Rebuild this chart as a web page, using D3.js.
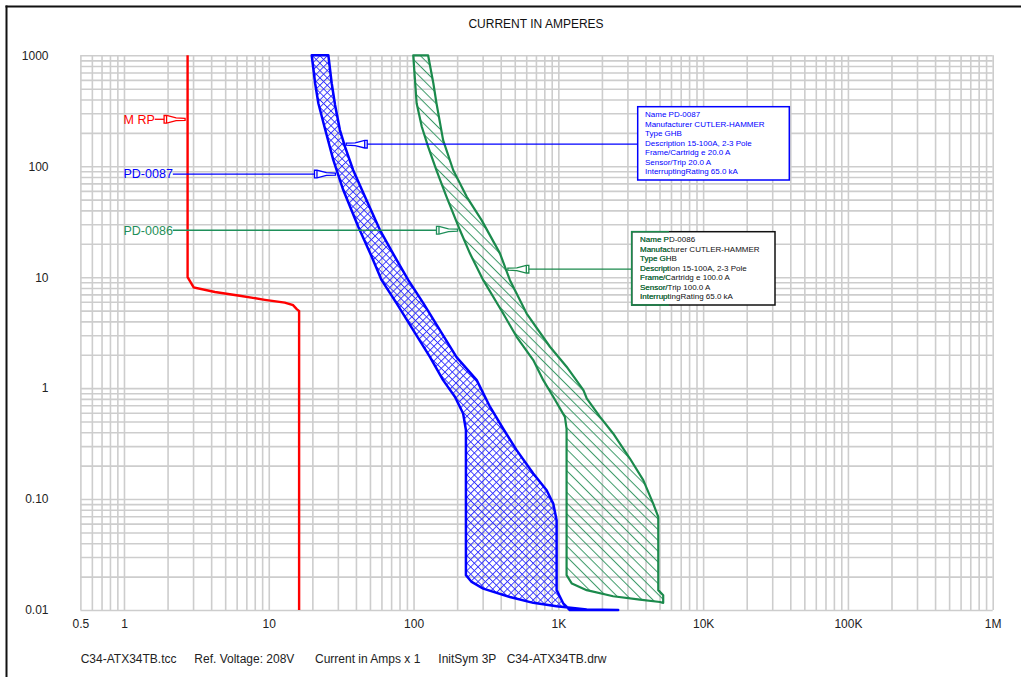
<!DOCTYPE html>
<html>
<head>
<meta charset="utf-8">
<script src="https://cdn.jsdelivr.net/npm/d3@7"></script>
<style>
  body { margin: 0; background: #fff; }
  svg text { font-family: Arial, "Liberation Sans", sans-serif; }
</style>
</head>
<body>
<svg id="chart" width="1021" height="677"></svg>
<script>
// ---- Axis ticks ----
const xTickValues = [0.5, 1, 10, 100, 1000, 10000, 100000, 1000000];
const xTickLabels = ["0.5", "1", "10", "100", "1K", "10K", "100K", "1M"];
const yTickValues = [1000, 100, 10, 1, 0.1, 0.01];
const yTickLabels = ["1000", "100", "10", "1", "0.10", "0.01"];

// ---- Time-current curves: [current (A), time (s)] ----
const mrpCurve = [[2.75, 1000], [2.75, 10], [3.03, 8.1], [4.25, 7.35], [6.3, 6.8], [9.4, 6.25],
  [12.9, 5.9], [14.7, 5.6], [15.6, 5.15], [16.2, 4.95], [16.2, 0.01]];

const pd0087Min = [[19.8, 1000], [20.9, 560], [22, 370], [24.4, 220], [27.9, 114], [32.7, 61],
  [41.5, 28.5], [51.4, 15.3], [60.2, 9.4], [76.4, 5.8], [99.5, 3.33], [130, 1.9], [160, 1.18],
  [193, 0.835], [220, 0.59], [230, 0.42], [230, 0.098], [230, 0.0206], [252, 0.0179],
  [303, 0.0156], [463, 0.0131], [671, 0.0116], [973, 0.0108], [1570, 0.0101], [2590, 0.01]];
const pd0087Max = [[25.8, 1000], [27.2, 560], [28.7, 356], [31, 212], [33.6, 150], [38.3, 92],
  [46.2, 53], [58.6, 26.6], [76.4, 14.3], [92, 9.4], [117, 5.8], [152, 3.33], [198, 1.9],
  [273, 1.18], [337, 0.68], [416, 0.43], [515, 0.276], [671, 0.17], [830, 0.12], [922, 0.091],
  [973, 0.0645], [973, 0.0151], [1080, 0.0115], [1200, 0.01]];

const pd0086Min = [[99.5, 1000], [105, 370], [114, 227], [126, 150], [144, 92], [169, 53],
  [209, 26.6], [245, 16.4], [303, 9.4], [416, 4.7], [515, 2.9], [671, 1.79], [787, 1.18],
  [922, 0.835], [1110, 0.55], [1140, 0.43], [1140, 0.0206], [1240, 0.0173], [1570, 0.0151],
  [2390, 0.0133], [3660, 0.0124], [5030, 0.0118], [5300, 0.0116]];
const pd0086Max = [[126, 1000], [137, 560], [144, 370], [160, 172], [188, 92], [233, 53],
  [295, 32.7], [395, 16.4], [463, 9.4], [604, 4.7], [875, 2.36], [1140, 1.56], [1490, 0.96],
  [1570, 0.81], [1940, 0.55], [2390, 0.39], [3120, 0.232], [3860, 0.148], [4520, 0.091],
  [4900, 0.069], [4900, 0.0151], [5300, 0.0136], [5300, 0.0116]];

// ---- Device labels: time (s) at which each leader meets its curve ----
const mrpLabelTime = 265;
const pd0087LabelTime = 85;
const pd0086LabelTime = 26.5;
const pd0087InfoTime = 158;
const pd0086InfoTime = 11.8;

const pd0087Info = ["Name  PD-0087", "Manufacturer CUTLER-HAMMER", "Type GHB",
  "Description 15-100A, 2-3 Pole", "Frame/Cartridg e 20.0 A", "Sensor/Trip 20.0 A",
  "InterruptingRating 65.0 kA"];
const pd0086Info = ["Name  PD-0086", "Manufacturer CUTLER-HAMMER", "Type GHB",
  "Description 15-100A, 2-3 Pole", "Frame/Cartridg e 100.0 A", "Sensor/Trip 100.0  A",
  "InterruptingRating 65.0 kA"];

const titleText = "CURRENT IN AMPERES";
const footerItems = ["C34-ATX34TB.tcc", "Ref. Voltage: 208V", "Current in Amps x 1",
  "InitSym 3P", "C34-ATX34TB.drw"];

// ---- Layout ----
const plot = { left: 80.4, right: 992.7, top: 55.3, bottom: 610 };
const footerX = [80.7, 194.3, 315, 438.3, 506.7];
const RED = "#ff0000", BLUE = "#0000ff", GREEN = "#1b8a4c", GREEN_TXT = "#1f8f5a", GRID = "#cdcdcd";

const svg = d3.select("#chart");

const x = d3.scaleLog().domain([0.5, 1e6]).range([plot.left, plot.right]);
const y = d3.scaleLog().domain([0.01, 1000]).range([plot.bottom, plot.top]);

// Outer frame (left and top edges)
svg.append("line").attr("x1", 6.5).attr("x2", 6.5).attr("y1", 5.5).attr("y2", 677)
  .attr("stroke", "#111").attr("stroke-width", 2);
svg.append("line").attr("x1", 5.5).attr("x2", 1021).attr("y1", 6.5).attr("y2", 6.5)
  .attr("stroke", "#111").attr("stroke-width", 2);

// Log grid: 1..9 per decade
function logGrid(lo, hi) {
  const out = [];
  for (let e = Math.floor(Math.log10(lo)) - 1; e <= Math.ceil(Math.log10(hi)); e++) {
    for (let k = 1; k <= 9; k++) {
      const v = k * Math.pow(10, e);
      if (v >= lo * 0.999 && v <= hi * 1.001) out.push(v);
    }
  }
  return out;
}
const gx = svg.append("g").attr("transform", `translate(0,${plot.bottom})`)
  .call(d3.axisBottom(x).tickValues(logGrid(0.5, 1e6)).tickSize(-(plot.bottom - plot.top)).tickFormat(""));
const gy = svg.append("g").attr("transform", `translate(${plot.left},0)`)
  .call(d3.axisLeft(y).tickValues(logGrid(0.01, 1000)).tickSize(-(plot.right - plot.left)).tickFormat(""));
[gx, gy].forEach(g => {
  g.select(".domain").remove();
  g.selectAll(".tick line").attr("stroke", GRID).attr("stroke-width", 1.6);
});

// Tick labels
const ax = svg.append("g").attr("transform", "translate(0,619)")
  .call(d3.axisBottom(x).tickValues(xTickValues).tickSize(0).tickPadding(0)
    .tickFormat((d, i) => xTickLabels[i]));
const ay = svg.append("g").attr("transform", "translate(48.5,0)")
  .call(d3.axisLeft(y).tickValues(yTickValues).tickSize(0).tickPadding(0)
    .tickFormat((d, i) => yTickLabels[i]));
[ax, ay].forEach(g => {
  g.select(".domain").remove();
  g.selectAll("text").attr("font-size", 12).attr("fill", "#222")
    .style("font-family", "Arial, 'Liberation Sans', sans-serif");
});

// Title and footer
svg.append("text").attr("x", 536).attr("y", 28).attr("text-anchor", "middle")
  .attr("font-size", 12).attr("fill", "#111").text(titleText);
svg.append("g").selectAll("text").data(footerItems).join("text")
  .attr("x", (d, i) => footerX[i]).attr("y", 662.5)
  .attr("font-size", 12).attr("fill", "#222").text(d => d);

// Hatch patterns
const defs = svg.append("defs");
const cross = defs.append("pattern").attr("id", "crossBlue").attr("patternUnits", "userSpaceOnUse")
  .attr("width", 5.2).attr("height", 5.2).attr("patternTransform", "rotate(45)");
cross.append("path").attr("d", "M0,0.5H5.2M0.5,0V5.2").attr("stroke", "#3030ff").attr("stroke-width", 0.9);
const diag = defs.append("pattern").attr("id", "diagGreen").attr("patternUnits", "userSpaceOnUse")
  .attr("width", 8).attr("height", 7.6).attr("patternTransform", "rotate(45)");
diag.append("path").attr("d", "M-1,0.5H9").attr("stroke", "#3c9a68").attr("stroke-width", 1);

const line = d3.line().x(d => x(d[0])).y(d => y(d[1]));
const band = (lo, hi) => line(lo.concat(hi.slice().reverse())) + "Z";

svg.append("path").attr("d", band(pd0086Min, pd0086Max))
  .attr("fill", "url(#diagGreen)").attr("stroke", GREEN).attr("stroke-width", 2.2)
  .attr("stroke-linejoin", "round");
svg.append("path").attr("d", band(pd0087Min, pd0087Max))
  .attr("fill", "url(#crossBlue)").attr("stroke", BLUE).attr("stroke-width", 2.5)
  .attr("stroke-linejoin", "round");
svg.append("path").attr("d", line(mrpCurve)).attr("fill", "none")
  .attr("stroke", RED).attr("stroke-width", 2.4);

// Current on a curve at a given time (log-log interpolation)
function currentAt(curve, t) {
  for (let i = 0; i < curve.length - 1; i++) {
    const a = curve[i], b = curve[i + 1];
    if ((t <= a[1] && t >= b[1]) && a[1] !== b[1]) {
      const f = (Math.log(t) - Math.log(a[1])) / (Math.log(b[1]) - Math.log(a[1]));
      return Math.exp(Math.log(a[0]) + f * (Math.log(b[0]) - Math.log(a[0])));
    }
  }
  return curve[0][0];
}

// Leader flag: tip at (tx, ty), dir = +1 points right, -1 points left
function flag(g, tx, ty, dir, color) {
  const L = 21, s = -dir;
  const p = [[0, -1], [9, -1.4], [18.5, -3.8], [L, -3.8], [L, 3.8], [18.5, 3.8], [9, 1.4], [0, 1]]
    .map(([dx, dy]) => [tx + s * dx, ty + dy]);
  g.append("path").attr("d", "M" + p.join("L") + "Z").attr("fill", "#fff")
    .attr("stroke", color).attr("stroke-width", 1.3);
  g.append("line").attr("x1", tx + s * 18.5).attr("x2", tx + s * 18.5)
    .attr("y1", ty - 3.8).attr("y2", ty + 3.8).attr("stroke", color).attr("stroke-width", 1.3);
  return tx + s * L;
}

const notes = svg.append("g");
function sideLabel(text, curve, t, color) {
  const ty = y(t), tx = x(currentAt(curve, t)) - 2.5;
  const tEl = notes.append("text").attr("x", 123.5).attr("y", ty).attr("dy", "0.35em")
    .attr("font-size", 12.5).attr("fill", color).text(text);
  const w = tEl.node().getComputedTextLength();
  const start = flag(notes, tx, ty, 1, color);
  notes.append("line").attr("x1", 123.5 + w).attr("x2", start).attr("y1", ty).attr("y2", ty)
    .attr("stroke", color).attr("stroke-width", 1.3);
}
sideLabel("M RP", mrpCurve, mrpLabelTime, RED);
sideLabel("PD-0087", pd0087Min, pd0087LabelTime, BLUE);
sideLabel("PD-0086", pd0086Min, pd0086LabelTime, GREEN_TXT);

// Info boxes
function infoBox(lines, curve, t, box, color, split) {
  const ty = y(t), tx = x(currentAt(curve, t)) + 2;
  const start = flag(notes, tx, ty, -1, color);
  notes.append("line").attr("x1", start).attr("x2", box.x).attr("y1", ty).attr("y2", ty)
    .attr("stroke", color).attr("stroke-width", 1.3);
  const g = notes.append("g");
  const drawBox = (gg, stroke, fill) => {
    gg.append("rect").attr("x", box.x).attr("y", box.y).attr("width", box.w).attr("height", box.h)
      .attr("fill", fill).attr("stroke", stroke).attr("stroke-width", 1.5);
    gg.selectAll("text.l").data(lines).join("text").attr("class", "l")
      .attr("x", box.x + box.pad).attr("y", (d, i) => box.y + 10.3 + i * 9.55)
      .attr("font-size", 8).attr("fill", stroke).text(d => d);
  };
  if (split) {
    drawBox(g, "#111", "#fff");
    const id = "clip" + Math.round(box.x);
    defs.append("clipPath").attr("id", id).append("rect")
      .attr("x", box.x - 2).attr("y", box.y - 2).attr("width", split - box.x + 2).attr("height", box.h + 4);
    drawBox(notes.append("g").attr("clip-path", `url(#${id})`), color, "none");
  } else {
    drawBox(g, color, "#fff");
  }
}
infoBox(pd0087Info, pd0087Max, pd0087InfoTime, { x: 637.7, y: 106.7, w: 151.6, h: 73.3, pad: 7.3 }, BLUE, null);
infoBox(pd0086Info, pd0086Max, pd0086InfoTime, { x: 631.7, y: 231.7, w: 143.3, h: 73.3, pad: 8.3 }, GREEN, 669);
</script>
</body>
</html>
